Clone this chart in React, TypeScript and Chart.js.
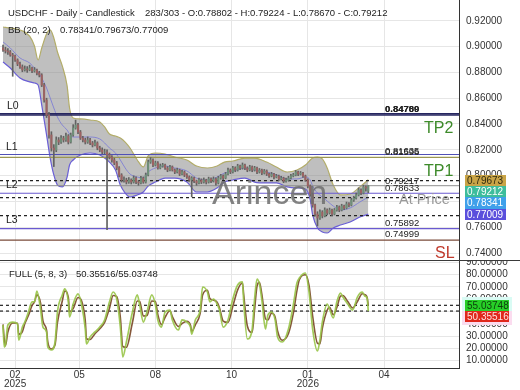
import React, { useEffect, useRef } from 'react';
import { Chart, registerables } from 'chart.js';
Chart.register(...registerables);

const FONT = '"Liberation Sans", Arial, Helvetica, sans-serif';

// ---------- x axis (bar index) ----------
const X_MIN = -2.5;
const X_MAX = 377;
const TICK_BARS = [10, 63, 126, 189, 252, 315];
const TICK_LABELS: (string | string[])[] = [['02', '2025'], '05', '08', '10', ['01', '2026'], '04'];

// ---------- price panel ----------
const PRICE_MIN = 0.7338;
const PRICE_MAX = 0.93612;
const PRICE_TICKS = [0.74, 0.76, 0.78, 0.8, 0.82, 0.84, 0.86, 0.88, 0.9, 0.92, 0.94];

// candles every 2 bars, prices in 1e-4 units
const CANDLE_BARS = Array.from({ length: 152 }, (_, i) => i * 2);
const OPEN = [
  8990, 8974, 8966, 8958, 8935, 8927, 8896, 8865, 8842, 8819,
  8826, 8819, 8834, 8811, 8819, 8795, 8780, 8702, 8586, 8470,
  8315, 8214, 8198, 8276, 8260, 8291, 8276, 8307, 8260, 8315,
  8369, 8392, 8338, 8291, 8276, 8260, 8276, 8253, 8237, 8253,
  8214, 8198, 8183, 8183, 8160, 8144, 8121, 8098, 8059, 8005,
  7966, 7966, 7950, 7966, 7950, 7981, 7950, 7943, 7981, 7950,
  8005, 8105, 8121, 8082, 8098, 8059, 8074, 8082, 8059, 8043,
  8067, 8043, 8028, 8043, 8012, 8028, 8005, 7989, 7966, 7981,
  7958, 7943, 7966, 7950, 7966, 7950, 7974, 7958, 7974, 7943,
  7981, 7997, 7981, 8012, 8043, 8028, 8059, 8043, 8074, 8059,
  8082, 8059, 8043, 8067, 8043, 8059, 8028, 8043, 8020, 8036,
  8012, 7997, 8012, 7989, 7997, 7974, 7981, 7958, 7966, 7981,
  7997, 8005, 8028, 8012, 8020, 7997, 7966, 7919, 7857, 7772,
  7702, 7671, 7718, 7687, 7733, 7710, 7733, 7702, 7733, 7757,
  7733, 7764, 7749, 7780, 7772, 7811, 7826, 7850, 7888, 7865,
  7912, 7880,
];
const HIGH = [
  9012, 8995, 8985, 8970, 8948, 8935, 8905, 8880, 8858, 8850,
  8845, 8856, 8842, 8838, 8826, 8808, 8790, 8715, 8600, 8490,
  8340, 8240, 8300, 8295, 8310, 8305, 8330, 8318, 8330, 8395,
  8430, 8405, 8350, 8305, 8290, 8300, 8288, 8265, 8275, 8262,
  8228, 8215, 8205, 8200, 8175, 8155, 8135, 8110, 8070, 8015,
  7990, 7980, 7985, 7975, 7998, 7990, 7962, 7995, 7990, 8020,
  8120, 8140, 8130, 8112, 8108, 8090, 8095, 8090, 8070, 8080,
  8075, 8052, 8058, 8050, 8040, 8036, 8015, 7998, 7992, 7988,
  7965, 7980, 7975, 7982, 7972, 7988, 7982, 7990, 7982, 7995,
  8010, 8005, 8025, 8058, 8052, 8072, 8068, 8088, 8082, 8098,
  8090, 8068, 8080, 8075, 8072, 8066, 8055, 8050, 8048, 8044,
  8020, 8025, 8018, 8010, 8004, 7995, 7988, 7980, 7995, 8010,
  8018, 8040, 8035, 8032, 8026, 8004, 7975, 7928, 7865, 7780,
  7720, 7735, 7728, 7750, 7742, 7748, 7740, 7745, 7770, 7765,
  7778, 7772, 7795, 7790, 7825, 7840, 7865, 7905, 7898, 7925,
  7920, 7922,
];
const LOW = [
  8962, 8950, 8940, 8925, 8770, 8885, 8852, 8830, 8805, 8810,
  8800, 8812, 8798, 8802, 8780, 8765, 8690, 8570, 8450, 8290,
  8190, 8070, 8185, 8240, 8250, 8260, 8265, 8245, 8252, 8305,
  8360, 8325, 8280, 8262, 8245, 8250, 8240, 8222, 8230, 8200,
  8185, 8170, 8168, 7580, 8130, 8105, 8085, 8045, 7990, 7950,
  7950, 7935, 7940, 7935, 7942, 7938, 7925, 7935, 7940, 7942,
  7998, 8095, 8070, 8075, 8050, 8052, 8065, 8048, 8030, 8036,
  8035, 8015, 8020, 8000, 8005, 7992, 7978, 7955, 7835, 7945,
  7925, 7935, 7938, 7942, 7935, 7942, 7945, 7950, 7925, 7935,
  7972, 7968, 7975, 8005, 8015, 8020, 8030, 8035, 8045, 8050,
  8045, 8030, 8036, 8030, 8035, 8015, 8020, 8008, 8012, 8000,
  7985, 7990, 7975, 7982, 7960, 7966, 7945, 7950, 7958, 7975,
  7990, 7998, 8000, 8005, 7985, 7955, 7905, 7840, 7755, 7685,
  7610, 7660, 7672, 7680, 7695, 7702, 7690, 7695, 7725, 7720,
  7726, 7735, 7742, 7758, 7765, 7800, 7818, 7842, 7852, 7858,
  7880, 7867,
];
const CLOSE = [
  8974, 8966, 8958, 8935, 8927, 8896, 8865, 8842, 8819, 8826,
  8819, 8834, 8811, 8819, 8795, 8780, 8702, 8586, 8470, 8315,
  8214, 8198, 8276, 8260, 8291, 8276, 8307, 8260, 8315, 8369,
  8392, 8338, 8291, 8276, 8260, 8276, 8253, 8237, 8253, 8214,
  8198, 8183, 8183, 8160, 8144, 8121, 8098, 8059, 8005, 7966,
  7966, 7950, 7966, 7950, 7981, 7950, 7943, 7981, 7950, 8005,
  8105, 8121, 8082, 8098, 8059, 8074, 8082, 8059, 8043, 8067,
  8043, 8028, 8043, 8012, 8028, 8005, 7989, 7966, 7981, 7958,
  7943, 7966, 7950, 7966, 7950, 7974, 7958, 7974, 7943, 7981,
  7997, 7981, 8012, 8043, 8028, 8059, 8043, 8074, 8059, 8082,
  8059, 8043, 8067, 8043, 8059, 8028, 8043, 8020, 8036, 8012,
  7997, 8012, 7989, 7997, 7974, 7981, 7958, 7966, 7981, 7997,
  8005, 8028, 8012, 8020, 7997, 7966, 7919, 7857, 7772, 7702,
  7671, 7718, 7687, 7733, 7710, 7733, 7702, 7733, 7757, 7733,
  7764, 7749, 7780, 7772, 7811, 7826, 7850, 7888, 7865, 7912,
  7904, 7921,
];

// Bollinger bands (20, 2)
const BB_BARS = [
  0, 6, 14, 22, 26, 29, 32, 36, 39, 42,
  45, 49, 53, 55, 58, 64, 72, 80, 84, 88,
  93, 97, 101, 105, 111, 116, 120, 126, 134, 142,
  152, 160, 169, 177, 183, 190, 200, 208, 218, 226,
  235, 243, 250, 254, 256, 260, 264, 268, 273, 279,
  287, 295, 302,
];
const BB_UPPER = [
  0.9152, 0.9144, 0.9129, 0.9082, 0.9005, 0.8896, 0.8989, 0.9098, 0.9129, 0.9067,
  0.8958, 0.885, 0.8695, 0.8524, 0.8447, 0.8439, 0.8431, 0.8416, 0.8377, 0.8322,
  0.8307, 0.8291, 0.826, 0.8214, 0.8121, 0.8067, 0.8152, 0.8175, 0.8167, 0.8144,
  0.8121, 0.8074, 0.8059, 0.8074, 0.8105, 0.8113, 0.8136, 0.8136, 0.8105, 0.8067,
  0.8028, 0.8043, 0.8082, 0.8121, 0.8136, 0.8144, 0.8129, 0.8059, 0.7927, 0.785,
  0.7857, 0.7912, 0.79673,
];
const BB_MID = [
  0.9036, 0.8989, 0.8912, 0.8873, 0.8834, 0.8803, 0.8757, 0.8679, 0.8602, 0.8524,
  0.8454, 0.8392, 0.8353, 0.8322, 0.8299, 0.8299, 0.8299, 0.8284, 0.8253, 0.8214,
  0.8175, 0.8121, 0.8059, 0.8012, 0.7989, 0.7981, 0.8028, 0.8059, 0.8074, 0.8059,
  0.8036, 0.7981, 0.7966, 0.7989, 0.802, 0.8036, 0.8059, 0.8043, 0.8028, 0.8005,
  0.7974, 0.7974, 0.7989, 0.7966, 0.7919, 0.7865, 0.7834, 0.7803, 0.7764, 0.7733,
  0.7749, 0.7795, 0.78341,
];
const BB_LOWER = [
  0.8881, 0.8834, 0.8757, 0.8726, 0.8718, 0.8702, 0.8547, 0.8315, 0.8136, 0.8005,
  0.7927, 0.7912, 0.7989, 0.8082, 0.8121, 0.816, 0.8175, 0.816, 0.8136, 0.8105,
  0.8043, 0.7927, 0.7865, 0.7834, 0.785, 0.7873, 0.7919, 0.795, 0.7981, 0.7981,
  0.795, 0.7873, 0.7873, 0.7904, 0.795, 0.7966, 0.7981, 0.795, 0.7943, 0.7943,
  0.7912, 0.7904, 0.7896, 0.7811, 0.7695, 0.7594, 0.7563, 0.7555, 0.7594, 0.7617,
  0.764, 0.7679, 0.77009,
];

// horizontal levels
const LEVEL_VALUES = [0.84789, 0.847, 0.81635, 0.8142, 0.79605, 0.79217, 0.78633, 0.78287, 0.76891, 0.75892, 0.74999];
const LEVEL_STYLES = [
  { c: '#262660', w: 1.5, d: [] as number[] },
  { c: '#262660', w: 1.5, d: [] },
  { c: '#5050b5', w: 1.2, d: [] },
  { c: '#9a9650', w: 1.2, d: [] },
  { c: '#222222', w: 1.2, d: [3, 3] },
  { c: '#8f8f8f', w: 1, d: [] },
  { c: '#6a5ad0', w: 1.2, d: [] },
  { c: '#222222', w: 1.2, d: [3, 3] },
  { c: '#222222', w: 1.2, d: [3, 3] },
  { c: '#6a5ad0', w: 1.2, d: [] },
  { c: '#7a4b3a', w: 1.2, d: [] },
];

// ---------- stochastic panel ----------
const STOCH_MIN = 3.9;
const STOCH_MAX = 91.2;
const STOCH_TICKS = [10, 20, 30, 40, 50, 60, 70, 80, 90];
const STOCH_BARS = [
  0, 1, 2, 4, 8, 12, 13, 16, 18, 21,
  24, 26, 28, 31, 33, 36, 37, 40, 43, 45,
  49, 51, 54, 55, 58, 62, 65, 68, 69, 72,
  76, 80, 84, 88, 91, 94, 97, 99, 102, 107,
  111, 113, 116, 119, 123, 126, 128, 131, 134, 138,
  140, 145, 148, 152, 155, 156, 159, 163, 165, 169,
  171, 174, 177, 179, 182, 186, 190, 194, 198, 199,
  202, 206, 208, 210, 212, 214, 217, 219, 222, 225,
  227, 231, 236, 240, 243, 245, 250, 253, 256, 260,
  262, 264, 268, 270, 273, 276, 279, 281, 285, 289,
  293, 297, 299, 301, 302,
];
const STOCH_K = [
  39.0, 21.0, 22.7, 39.0, 41.4, 39.8, 26.7, 37.3, 41.4, 49.6,
  57.8, 57.8, 66.7, 52.0, 37.3, 33.3, 21.0, 18.6, 25.1, 49.6,
  63.5, 68.4, 57.8, 45.5, 56.1, 64.3, 55.3, 35.7, 23.5, 29.2,
  33.3, 37.3, 43.1, 57.8, 65.9, 60.2, 37.3, 12.9, 25.1, 49.6,
  63.5, 55.3, 41.4, 49.6, 63.5, 55.3, 43.1, 37.3, 49.6, 51.2,
  43.1, 34.9, 43.1, 41.4, 37.3, 31.6, 43.1, 51.2, 70.0, 65.9,
  57.8, 60.2, 56.1, 51.2, 37.3, 43.1, 60.2, 71.6, 74.1, 57.8,
  27.6, 35.7, 60.2, 76.5, 72.4, 59.4, 35.7, 47.1, 49.6, 43.1,
  29.2, 25.1, 35.7, 55.3, 73.3, 77.3, 81.4, 65.9, 35.7, 17.8,
  26.7, 41.4, 56.1, 52.0, 44.7, 57.8, 65.1, 61.8, 56.1, 51.2,
  61.8, 65.9, 62.7, 61.0, 50.35516,
];
const STOCH_D = [
  39.5, 27.3, 22.1, 33.3, 40.6, 40.4, 31.3, 33.6, 40.0, 46.7,
  54.9, 57.8, 63.6, 57.1, 42.4, 34.7, 25.3, 19.4, 22.8, 41.0,
  58.6, 66.7, 61.5, 49.8, 52.4, 61.4, 58.5, 42.6, 27.8, 27.2,
  31.9, 35.9, 41.1, 52.7, 63.1, 62.2, 45.3, 21.4, 20.8, 41.0,
  58.6, 58.2, 46.3, 46.7, 58.6, 58.2, 47.4, 39.3, 45.3, 50.6,
  45.9, 37.8, 40.2, 42.0, 38.7, 33.6, 39.1, 48.4, 63.4, 67.3,
  60.6, 59.4, 57.5, 52.9, 42.2, 41.1, 54.2, 67.6, 73.2, 63.5,
  38.2, 32.9, 51.6, 70.8, 73.8, 64.0, 44.0, 43.1, 48.7, 45.4,
  34.1, 26.5, 32.0, 48.4, 67.0, 75.9, 80.0, 71.3, 46.3, 24.1,
  23.6, 36.3, 51.0, 53.4, 47.3, 53.2, 62.5, 63.0, 58.1, 52.9,
  58.1, 64.5, 63.8, 61.6, 55.03748,
];
const STOCH_LEVELS = [55.03748, 50.35516];

// ---------- helpers ----------
const pts = (xs: number[], ys: number[]) => xs.map((x, i) => ({ x, y: ys[i] }));
const hline = (v: number) => [{ x: X_MIN, y: v }, { x: X_MAX, y: v }];
const tickFont = { family: FONT, size: 10 };

function xScale(showLabels: boolean) {
  return {
    type: 'linear',
    min: X_MIN,
    max: X_MAX,
    offset: false,
    grid: { color: '#e6e6e6', drawTicks: false, offset: false },
    border: { display: showLabels, color: '#333', width: 1 },
    ticks: {
      display: showLabels,
      autoSkip: false,
      maxRotation: 0,
      padding: 2,
      color: '#333',
      font: { family: FONT, size: 10, lineHeight: 0.95 },
      callback: (v: any) => {
        const i = TICK_BARS.indexOf(Number(v));
        return i >= 0 ? TICK_LABELS[i] : '';
      },
    },
    afterBuildTicks: (s: any) => {
      s.ticks = TICK_BARS.map((v) => ({ value: v }));
    },
    afterFit: (s: any) => {
      s.height = showLabels ? 22 : 0;
      s.paddingLeft = 0;
      s.paddingRight = 0;
    },
  };
}

function yScale(min: number, max: number, ticks: number[]) {
  return {
    type: 'linear',
    position: 'right',
    min,
    max,
    grid: { color: '#e6e6e6', drawTicks: false },
    border: { display: true, color: '#333', width: 1 },
    ticks: {
      autoSkip: false,
      padding: 7,
      color: '#333',
      font: tickFont,
      callback: (v: any) => Number(v).toFixed(5),
    },
    afterBuildTicks: (s: any) => {
      s.ticks = ticks.map((v) => ({ value: v }));
    },
    afterFit: (s: any) => {
      s.width = 61;
      s.paddingTop = 0;
      s.paddingBottom = 0;
    },
  };
}

const baseOptions = {
  animation: false,
  responsive: false,
  maintainAspectRatio: false,
  devicePixelRatio: 1,
  events: [],
  layout: { padding: 0 },
  plugins: { legend: { display: false }, tooltip: { enabled: false }, title: { display: false } },
};

function topConfig(): any {
  const bodyColors = CANDLE_BARS.map((_, i) => (CLOSE[i] >= OPEN[i] ? '#6f9079' : '#9c6262'));
  const levels = LEVEL_VALUES.map((v, i) => ({
    type: 'line',
    data: hline(v),
    borderColor: LEVEL_STYLES[i].c,
    borderWidth: LEVEL_STYLES[i].w,
    borderDash: LEVEL_STYLES[i].d,
    pointRadius: 0,
    fill: false,
    order: 5,
  }));
  return {
    type: 'line',
    data: {
      datasets: [
        {
          type: 'line',
          data: pts(BB_BARS, BB_UPPER),
          borderColor: '#b3ad6a',
          borderWidth: 1.2,
          backgroundColor: 'rgba(128,128,128,0.5)',
          fill: '+1',
          pointRadius: 0,
          cubicInterpolationMode: 'monotone',
          order: 10,
        },
        {
          type: 'line',
          data: pts(BB_BARS, BB_LOWER),
          borderColor: '#6a5fd6',
          borderWidth: 1.2,
          fill: false,
          pointRadius: 0,
          cubicInterpolationMode: 'monotone',
          order: 9,
        },
        {
          type: 'line',
          data: pts(BB_BARS, BB_MID),
          borderColor: '#8585d2',
          borderWidth: 1,
          fill: false,
          pointRadius: 0,
          cubicInterpolationMode: 'monotone',
          order: 8,
        },
        ...levels,
        {
          type: 'bar',
          data: CANDLE_BARS.map((b, i) => ({ x: b, y: [LOW[i] / 1e4, HIGH[i] / 1e4] })),
          backgroundColor: '#626262',
          barThickness: 1,
          grouped: false,
          borderWidth: 0,
          order: 2,
        },
        {
          type: 'bar',
          data: CANDLE_BARS.map((b, i) => ({ x: b, y: [OPEN[i] / 1e4, CLOSE[i] / 1e4] })),
          backgroundColor: bodyColors,
          barThickness: 1.4,
          grouped: false,
          borderWidth: 0,
          order: 1,
        },
      ],
    },
    options: {
      ...baseOptions,
      scales: { x: xScale(false), y: yScale(PRICE_MIN, PRICE_MAX, PRICE_TICKS) },
    },
  };
}

function botConfig(): any {
  return {
    type: 'line',
    data: {
      datasets: [
        ...STOCH_LEVELS.map((v) => ({
          type: 'line',
          data: hline(v),
          borderColor: '#222',
          borderWidth: 1.2,
          borderDash: [3, 3],
          pointRadius: 0,
          fill: false,
          order: 5,
        })),
        {
          type: 'line',
          data: pts(STOCH_BARS, STOCH_D),
          borderColor: '#85573a',
          borderWidth: 1.6,
          pointRadius: 0,
          fill: false,
          cubicInterpolationMode: 'monotone',
          order: 3,
        },
        {
          type: 'line',
          data: pts(STOCH_BARS, STOCH_K),
          borderColor: 'rgba(152,196,72,0.9)',
          borderWidth: 1.7,
          pointRadius: 0,
          fill: false,
          cubicInterpolationMode: 'monotone',
          order: 2,
        },
      ],
    },
    options: {
      ...baseOptions,
      scales: { x: xScale(true), y: yScale(STOCH_MIN, STOCH_MAX, STOCH_TICKS) },
    },
  };
}

// ---------- text helpers ----------
function T(p: { x: number; y: number; s: number; c?: string; w?: number; ls?: number; o?: number; children: React.ReactNode }) {
  const lh = Math.round(p.s * 1.2);
  return (
    <div
      style={{
        position: 'absolute',
        left: p.x,
        top: p.y - lh / 2,
        fontSize: p.s,
        lineHeight: `${lh}px`,
        color: p.c ?? '#222',
        fontWeight: p.w ?? 400,
        fontFamily: FONT,
        whiteSpace: 'nowrap',
        letterSpacing: p.ls ?? 0,
        opacity: p.o ?? 1,
      }}
    >
      {p.children}
    </div>
  );
}

function Box(p: { x: number; y: number; w: number; h: number; bg: string; c: string; text: string }) {
  return (
    <div
      style={{
        position: 'absolute',
        left: p.x,
        top: p.y,
        width: p.w,
        height: p.h,
        background: p.bg,
        color: p.c,
        fontSize: 10,
        lineHeight: `${p.h}px`,
        fontFamily: FONT,
        paddingLeft: 2,
        boxSizing: 'border-box',
        whiteSpace: 'nowrap',
      }}
    >
      {p.text}
    </div>
  );
}

export default function App() {
  const topRef = useRef<HTMLCanvasElement>(null);
  const botRef = useRef<HTMLCanvasElement>(null);

  useEffect(() => {
    const top = new Chart(topRef.current as HTMLCanvasElement, topConfig());
    const bot = new Chart(botRef.current as HTMLCanvasElement, botConfig());
    return () => {
      top.destroy();
      bot.destroy();
    };
  }, []);

  return (
    <div style={{ position: 'fixed', left: 0, top: 0, width: 520, height: 390, background: '#fff', overflow: 'hidden' }}>
      <canvas ref={topRef} width={520} height={261} style={{ position: 'absolute', left: 0, top: 0, width: 520, height: 261 }} />
      <canvas ref={botRef} width={520} height={129} style={{ position: 'absolute', left: 0, top: 261, width: 520, height: 129 }} />
      <div style={{ position: 'absolute', left: 0, top: 260, width: 520, height: 1, background: '#3a3a3a' }} />

      {/* headers */}
      <T x={8} y={12} s={9.5}>USDCHF - Daily - Candlestick</T>
      <T x={145} y={12} s={9.5}>283/303 - O:0.78802 - H:0.79224 - L:0.78670 - C:0.79212</T>
      <T x={8} y={29.5} s={9.5}>BB (20, 2)</T>
      <T x={60} y={29.5} s={9.5}>0.78341/0.79673/0.77009</T>
      <T x={9} y={273} s={9.5}>FULL (5, 8, 3)</T>
      <T x={76} y={273} s={9.5}>50.35516/55.03748</T>

      {/* watermark */}
      <T x={212} y={192} s={34} c="#6e6e6e" o={0.85}>Arincen</T>

      {/* level names */}
      <T x={7} y={105} s={10.5}>L0</T>
      <T x={6} y={146} s={10.5}>L1</T>
      <T x={6} y={184} s={10.5}>L2</T>
      <T x={6} y={219} s={10.5}>L3</T>

      {/* level values */}
      <T x={385} y={108} s={9.5} w={700}>0.84700</T>
      <T x={385} y={108} s={9.5} w={700}>0.84789</T>
      <T x={385} y={150} s={9.5}>0.81635</T>
      <T x={385} y={151} s={9.5}>0.81596</T>
      <T x={385} y={180} s={9.5}>0.79217</T>
      <T x={385} y={187.5} s={9.5}>0.78633</T>
      <T x={385} y={222} s={9.5}>0.75892</T>
      <T x={385} y={233.5} s={9.5}>0.74999</T>

      {/* target labels */}
      <T x={424} y={127.5} s={16} c="#3d8a2a">TP2</T>
      <T x={424} y={170} s={16} c="#3d8a2a">TP1</T>
      <T x={399} y={199.5} s={14.5} c="#9a9a9a">At Price</T>
      <T x={435} y={252} s={16} c="#c0392b">SL</T>

      {/* price value boxes */}
      <Box x={465} y={175} w={41} h={11} bg="#c9a447" c="#2e2a10" text="0.79673" />
      <Box x={465} y={186} w={41} h={11} bg="#3dbd9c" c="#ffffff" text="0.79212" />
      <Box x={465} y={197} w={41} h={11.5} bg="#3fa0ea" c="#ffffff" text="0.78341" />
      <Box x={465} y={208.5} w={41} h={11.5} bg="#5a4fdc" c="#ffffff" text="0.77009" />

      {/* stochastic value boxes */}
      <div style={{ position: 'absolute', left: 462, top: 297, width: 50, height: 14, background: '#d9fbf4' }} />
      <div style={{ position: 'absolute', left: 462, top: 311, width: 50, height: 14, background: '#fbdcef' }} />
      <Box x={465} y={299.5} w={44} h={11} bg="#27cf27" c="#0c3d0c" text="55.03748" />
      <Box x={465} y={311} w={44} h={11} bg="#e0281c" c="#ffe0e0" text="50.35516" />
    </div>
  );
}
